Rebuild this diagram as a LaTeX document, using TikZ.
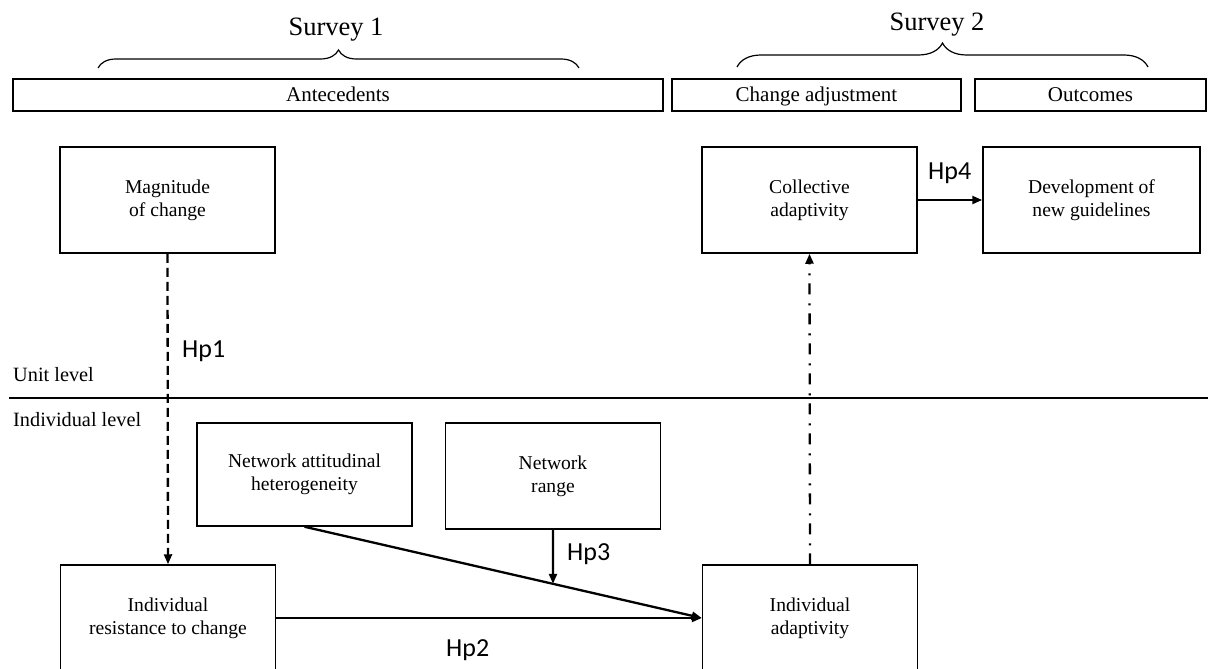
\documentclass[tikz,border=0pt]{standalone}
\usepackage{fontspec}
\setmainfont{Liberation Serif}
\newfontfamily\hpfont{Carlito}
\usetikzlibrary{arrows.meta,decorations.pathreplacing}

\tikzset{
  varbox/.style={draw, line width=1.5pt, minimum width=215pt, minimum height=106pt,
    inner sep=0pt, align=center, font=\fontsize{19.6}{23}\selectfont},
  headbox/.style={draw, line width=1.5pt, minimum height=32pt, inner sep=0pt,
    text height=16pt, text depth=2pt, font=\fontsize{21}{24}\selectfont},
  hplabel/.style={anchor=base west, inner sep=0pt, font=\hpfont\fontsize{26}{30}\selectfont},
  lvllabel/.style={anchor=base west, inner sep=0pt, font=\fontsize{20.3}{24}\selectfont},
  surveylabel/.style={anchor=base, inner sep=0pt, font=\fontsize{26.5}{30}\selectfont},
  link/.style={line width=2.3pt, -{Triangle[length=10pt,width=8pt]}},
  surveybrace/.style={decorate, decoration={brace, amplitude=#1pt}, line width=1.2pt}
}

\begin{document}
\begin{tikzpicture}[x=1pt,y=-1pt]
		%%%%% START %%%%%
		\useasboundingbox (0,0) rectangle (1208,669);
		\clip (0,0) rectangle (1208,669);
		
		% surveys and phases
		\node[surveylabel] (survA) at (336,36) {Survey 1};
		\node[surveylabel] (survB) at (937,31) {Survey 2};
		\draw[surveybrace=18] (98,68) -- (579,68);
		\draw[surveybrace=24] (737,67) -- (1148,67);
		
		\node[headbox, minimum width=650pt] (antec) at (338,95) {Antecedents};
		\node[headbox, minimum width=289pt] (chadj) at (816.5,95) {Change adjustment};
		\node[headbox, minimum width=231pt] (outc) at (1090.5,95) {Outcomes};
		
		% levels
		\coordinate (lvlL) at (9,398);
		\coordinate (lvlR) at (1208,398);
		\draw[line width=1.9pt] (lvlL) -- (lvlR);
		\node[lvllabel] (unitlvl) at (13,381) {Unit level};
		\node[lvllabel] (indlvl) at (13,426) {Individual level};
		
		% variables
		\node[varbox] (magn) at (167.5,200) {Magnitude\\of change};
		\node[varbox] (colladapt) at (809.5,200) {Collective\\adaptivity};
		\node[varbox, minimum width=217pt] (guide) at (1091.5,200) {Development of\\new guidelines};
		\node[varbox, minimum height=103pt] (netatt) at (304.5,474.5) {Network attitudinal\\heterogeneity};
		\node[varbox] (netrange) at (553,476) {Network\\range};
		\node[varbox] (indres) at (168,618) {Individual\\resistance to change};
		\node[varbox] (indadapt) at (810,618) {Individual\\adaptivity};
		
		% hypotheses
		\draw[link, dash pattern=on 9pt off 5pt] (magn.south) -- (indres.north);
		\draw[link] (indres.east) -- (indadapt.west);
		\draw[link] (netatt.south) -- (indadapt.west);
		\coordinate (hit) at (intersection of netatt.south--indadapt.west and netrange.north--netrange.south);
		\draw[link] (netrange.south) -- (hit);
		\draw[link, dash pattern=on 11pt off 8pt on 2pt off 9pt] (indadapt.north) -- (colladapt.south);
		\draw[link] (colladapt.east) -- (guide.west);
		
		\node[hplabel] (hpA) at (182,357) {Hp1};
		\node[hplabel] (hpB) at (446,656) {Hp2};
		\node[hplabel] (hpC) at (567,560) {Hp3};
		\node[hplabel] (hpD) at (928,179) {Hp4};
		
		%%%%% END %%%%%
	\end{tikzpicture}
\end{document}
